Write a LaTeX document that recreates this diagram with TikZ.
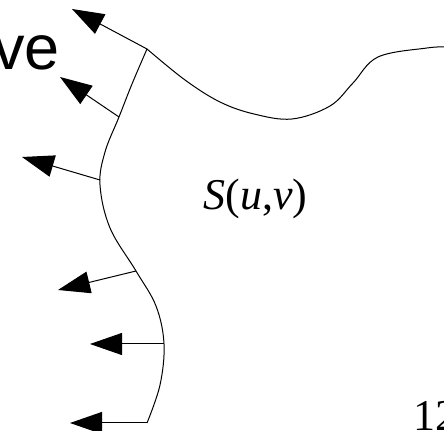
\documentclass[tikz,border=0pt]{standalone}
\usepackage{fontspec}
\newfontfamily\arialfont{Liberation Sans}
\newfontfamily\timesfont{Liberation Serif}
\usetikzlibrary{arrows.meta}

\begin{document}
\begin{tikzpicture}[
        x=0.5pt, y=-0.5pt,
        surface/.style={line width=0.5pt},
        normal/.style={line width=0.5pt, -{Triangle[length=16pt, width=11pt]}},
        title/.style={font=\arialfont\fontsize{31.5}{36}\selectfont, inner sep=0pt},
        label/.style={font=\timesfont\fontsize{22}{26}\selectfont, inner sep=0pt}
    ]
        \useasboundingbox (0,0) rectangle (444,431);

        % Title remainder (cut at the left edge)
        \node[title, anchor=base east] (title) at (60,70) {ve};

        % Surface boundary, left side
        \coordinate (corner) at (147,49);
        \draw[surface] plot[smooth, tension=0.6] coordinates {(147,49) (132,84) (119,117) (105,152) (100,185) (110,228) (136,271) (156,306) (164,344) (160,385) (147,423)};

        % Surface boundary, right side
        \draw[surface] plot[smooth, tension=0.6] coordinates {(147,49) (185,80) (220,102) (254,114) (292,119) (330,106) (353,83) (378,57) (427,48) (446,47)};

        % Normals along the boundary
        \foreach \i/\px/\py/\tx/\ty in {1/147/49/72/9, 2/119/117/60/77, 3/100/180/22/157,
                                      4/136/271/58/290, 5/164/344/90/344, 6/147/423/70/423} {
            \coordinate (p\i) at (\px,\py);
            \coordinate (t\i) at (\tx,\ty);
            \draw[normal] (p\i) -- (t\i);
        }

        % Labels
        \node[label, anchor=base west] (surf) at (203,210) {\textit{S}(\textit{u},\textit{v})};
        \node[label, anchor=base west] (page) at (413,431) {12};
    \end{tikzpicture}
\end{document}
